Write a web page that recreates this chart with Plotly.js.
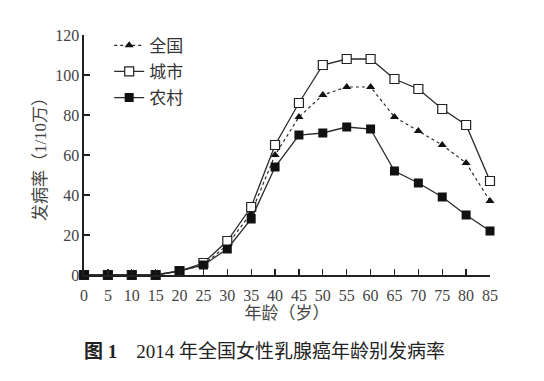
<!DOCTYPE html>
<html>
<head>
<meta charset="utf-8">
<script src="https://cdn.plot.ly/plotly-3.0.1.min.js"></script>
<style>html,body{margin:0;padding:0;background:#fff;}#chart{width:544px;height:381px;}</style>
</head>
<body>
<div id="chart"></div>
<script>
var ages = [0,5,10,15,20,25,30,35,40,45,50,55,60,65,70,75,80,85];
var nationalRate = [0,0,0,0,2,5,15,31,60,79,90,94,94,79,72,65,56,37];
var urbanRate    = [0,0,0,0,2,6,17,34,65,86,105,108,108,98,93,83,75,47];
var ruralRate    = [0,0,0,0,2,5,13,28,54,70,71,74,73,52,46,39,30,22];
var seriesNames = ["全国","城市","农村"];
var xTickVals = [0,5,10,15,20,25,30,35,40,45,50,55,60,65,70,75,80,85];
var yTickVals = [0,20,40,60,80,100,120];

var FONT = '"Liberation Serif", "Noto Sans CJK SC", serif';
var lineCol = '#2a2a2a';

var traces = [
  {x: ages, y: nationalRate, name: seriesNames[0], mode: 'lines+markers', legendgroup: 'a',
   line: {color: lineCol, width: 1.2, dash: 'dot'},
   marker: {symbol: 'triangle-up', size: 8, color: '#111'}, cliponaxis: false},
  {x: ages, y: urbanRate, name: seriesNames[1], mode: 'lines+markers', legendgroup: 'b',
   line: {color: lineCol, width: 1.3},
   marker: {symbol: 'square', size: 9, color: '#fff', line: {color: '#222', width: 1.2}}, cliponaxis: false},
  {x: ages, y: ruralRate, name: seriesNames[2], mode: 'lines+markers', legendgroup: 'c',
   line: {color: lineCol, width: 1.3},
   marker: {symbol: 'square', size: 9, color: '#111'}, cliponaxis: false}
];

var layout = {
  width: 544, height: 381,
  margin: {l: 84, r: 54, t: 35, b: 106},
  paper_bgcolor: '#fff', plot_bgcolor: '#fff',
  font: {family: FONT, color: '#333', size: 16},
  showlegend: true,
  legend: {x: 0.062, y: 1.03, xanchor: 'left', yanchor: 'top', bgcolor: 'rgba(0,0,0,0)',
           font: {family: FONT, size: 17, color: '#333'}, traceorder: 'grouped', tracegroupgap: 1,
           itemwidth: 30},
  xaxis: {range: [0, 85], tickvals: xTickVals, ticks: 'inside', ticklen: 6, tickwidth: 1.3, tickcolor: '#222',
          showline: true, linecolor: '#222', linewidth: 1.6, showgrid: false, zeroline: false,
          ticklabelstandoff: 5,
          tickfont: {family: FONT, size: 16, color: '#444'},
          title: {text: '年龄（岁）', font: {family: FONT, size: 17, color: '#444'}, standoff: 4}},
  yaxis: {range: [0, 120], tickvals: yTickVals, ticks: 'inside', ticklen: 6, tickwidth: 1.3, tickcolor: '#222',
          showline: true, linecolor: '#222', linewidth: 1.6, showgrid: false, zeroline: false,
          tickfont: {family: FONT, size: 16, color: '#444'},
          title: {text: '发病率（1/10万）', font: {family: FONT, size: 17, color: '#444'}, standoff: 4}},
  annotations: [
    {text: '<b>图 1</b>　2014 年全国女性乳腺癌年龄别发病率', xref: 'paper', yref: 'paper',
     x: 0.445, y: -0.32, xanchor: 'center', yanchor: 'middle', showarrow: false,
     font: {family: FONT, size: 19, color: '#222'}}
  ]
};

Plotly.newPlot('chart', traces, layout, {displayModeBar: false, staticPlot: true});
</script>
</body>
</html>
